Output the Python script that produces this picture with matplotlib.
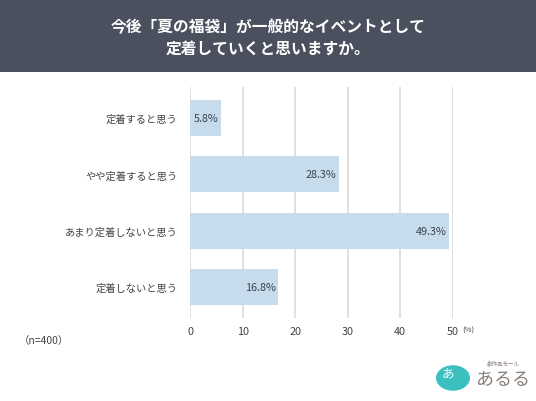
import matplotlib
matplotlib.use("Agg")
import matplotlib.pyplot as plt
from matplotlib.patches import Rectangle, Circle

plt.rcParams['font.family'] = ['Noto Sans CJK JP', 'DejaVu Sans']

categories = ["定着すると思う", "やや定着すると思う", "あまり定着しないと思う", "定着しないと思う"]
values = [5.8, 28.3, 49.3, 16.8]
xticks = [0, 10, 20, 30, 40, 50]
title = "今後「夏の福袋」が一般的なイベントとして\n定着していくと思いますか。"
note = "（n=400）"

fig = plt.figure(figsize=(5.36, 4.02), dpi=100)
fig.patch.set_facecolor("white")

# header band
fig.patches.append(Rectangle((0, 0.818), 1, 0.182, transform=fig.transFigure,
                             facecolor="#4b505f", edgecolor="none", zorder=0))
fig.text(0.5, 0.906, title, ha="center", va="center", color="white",
         fontsize=11.3, fontweight="bold", linespacing=1.45)

ax = fig.add_axes([0.355, 0.2065, 0.4896, 0.5746])
y = list(range(len(categories)))
ax.barh(y, values, height=0.64, color="#c6dcec", zorder=2)
ax.set_xlim(0, 50)
ax.set_ylim(3.55, -0.55)
ax.set_xticks(xticks)
ax.set_xticklabels([str(t) for t in xticks], fontsize=7.8, color="#444444")
ax.set_yticks(y)
ax.set_yticklabels(categories, fontsize=7.4, color="#444444")
ax.tick_params(axis="both", length=0)
ax.tick_params(axis="x", pad=6)
ax.tick_params(axis="y", pad=9)
for s in ax.spines.values():
    s.set_visible(False)
ax.xaxis.grid(True, color="#dddddd", linewidth=1.3, zorder=1)
ax.set_axisbelow(True)

for yi, v in zip(y, values):
    ax.annotate(f"{v}%", xy=(v, yi), xytext=(-1.5, 0), textcoords="offset points",
                ha="right", va="center", fontsize=7.8, color="#3c4150", zorder=3)

fig.text(0.862, 0.178, "(%)", ha="left", va="center", fontsize=5.5, color="#444444")
fig.text(0.035, 0.152, note, ha="left", va="center", fontsize=7.5, color="#444444")

# logo approximation
fig.patches.append(Circle((453 / 536, 1 - 379 / 402), 17 / 536, transform=fig.transFigure,
                          facecolor="#3bbfc0", edgecolor="none"))
fig.text(448 / 536, 1 - 374 / 402, "あ", ha="center", va="center", fontsize=9,
         color="white")
fig.text(503 / 536, 1 - 380 / 402, "あるる", ha="center", va="center", fontsize=13,
         color="#8a7f7a")
fig.text(503 / 536, 1 - 363 / 402, "創作品モール", ha="center", va="center", fontsize=4,
         color="#8a7f7a")

fig.savefig("out.png", dpi=100)
